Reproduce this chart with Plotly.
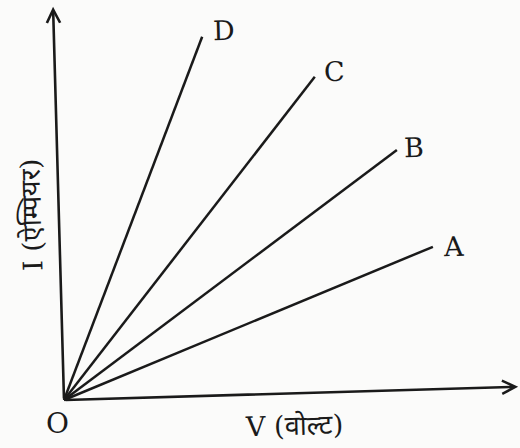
import plotly.graph_objects as go

# I-V lines for four conductors (arbitrary units)
names = ["A", "B", "C", "D"]
volts = [8.09, 7.30, 5.50, 3.03]
amps = [3.83, 6.25, 8.08, 9.08]
label_shift = [(8, 0), (5, 3), (7, 5), (8, 6)]

# axis arrow tips (the scan is slightly rotated)
v_axis_tip = (9.96, 0.33)
i_axis_tip = (-0.24, 9.83)

x_title = "V (वोल्ट)"
y_title = "I (ऐम्पियर)"

ink = "#1a1a1a"
serif = "DejaVu Serif, Liberation Serif, serif"

fig = go.Figure()

for name, v, i in zip(names, volts, amps):
    fig.add_trace(go.Scatter(
        x=[0, v], y=[0, i], mode="lines", name=name,
        line=dict(color=ink, width=2.5), hoverinfo="skip"
    ))

# axes with open arrow heads
for tip in (v_axis_tip, i_axis_tip):
    fig.add_annotation(
        x=tip[0], y=tip[1], ax=0, ay=0, xref="x", yref="y", axref="x", ayref="y",
        text="", showarrow=True, arrowhead=5, arrowsize=1, arrowwidth=2.6, arrowcolor=ink
    )

# line labels
for name, v, i, (dx, dy) in zip(names, volts, amps, label_shift):
    fig.add_annotation(
        x=v, y=i, text=name, showarrow=False, xanchor="left", yanchor="middle",
        xshift=dx, yshift=dy, textangle=-1.6,
        font=dict(family=serif, size=27, color=ink)
    )

fig.add_annotation(x=0, y=0, text="O", showarrow=False, xanchor="center", yanchor="middle",
                   xshift=-7, yshift=-23, font=dict(family=serif, size=28, color=ink))
fig.add_annotation(x=294 / 520, y=1 - 425 / 448, xref="paper", yref="paper",
                   xanchor="center", yanchor="middle",
                   text=x_title, showarrow=False, textangle=-1.6,
                   font=dict(family=serif, size=27, color=ink))
fig.add_annotation(x=31 / 520, y=1 - 215 / 448, xref="paper", yref="paper",
                   xanchor="center", yanchor="middle",
                   text=y_title, showarrow=False, textangle=-91.6,
                   font=dict(family=serif, size=27, color=ink))

fig.update_layout(
    width=520, height=448,
    margin=dict(l=0, r=0, t=0, b=0),
    paper_bgcolor="#fbfbfa", plot_bgcolor="#fbfbfa",
    showlegend=False,
    xaxis=dict(range=[-64 / 45.6, 456 / 45.6], visible=False, fixedrange=True),
    yaxis=dict(range=[-48 / 40, 10], visible=False, fixedrange=True),
)

# drop the browser's default page margin so the figure sits at 0,0
fig.write_html("out.html", config={"displayModeBar": False},
               post_script="document.body.style.margin = '0';")
